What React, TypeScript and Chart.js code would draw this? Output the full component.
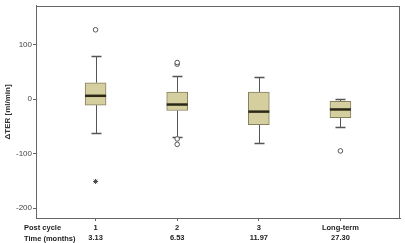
import React, { useEffect, useRef } from "react";
import { Chart, registerables } from "chart.js";

Chart.register(...registerables);

const categories = ["1", "2", "3", "Long-term"];
const times = ["3.13", "6.53", "11.97", "27.30"];
const whiskerLow = [-63, -69, -80, -52];
const q1 = [-11, -21, -47, -34];
const median = [6, -10, -23, -19];
const q3 = [30, 13, 13, -4];
const whiskerHigh = [79, 43, 41, 0];
const outlierX = [1, 2, 2, 2, 2, 4];
const outlierY = [127, 64, 67, -73, -83, -95];
const extremeX = [1];
const extremeY = [-151];
const yTicks = [-200, -100, 0, 100];

const FONT = "'Liberation Sans', Arial, sans-serif";

const boxPlugin = {
  id: "boxWhiskers",
  beforeDatasetsDraw(chart: any) {
    const { ctx, scales } = chart;
    const x = scales.x;
    const y = scales.y;
    ctx.save();
    ctx.strokeStyle = "#555";
    ctx.lineWidth = 1;
    categories.forEach((_, i) => {
      const px = Math.round(x.getPixelForValue(i + 1)) + 0.5;
      const yl = Math.round(y.getPixelForValue(whiskerLow[i])) + 0.5;
      const yh = Math.round(y.getPixelForValue(whiskerHigh[i])) + 0.5;
      const y1 = y.getPixelForValue(q1[i]);
      const y3 = y.getPixelForValue(q3[i]);
      ctx.beginPath();
      ctx.moveTo(px, yl);
      ctx.lineTo(px, y1);
      ctx.moveTo(px, y3);
      ctx.lineTo(px, yh);
      ctx.stroke();
      ctx.lineWidth = 1.5;
      ctx.beginPath();
      ctx.moveTo(px - 5, yl);
      ctx.lineTo(px + 5, yl);
      ctx.moveTo(px - 5, yh);
      ctx.lineTo(px + 5, yh);
      ctx.stroke();
      ctx.lineWidth = 1;
    });
    ctx.restore();
  },
  afterDatasetsDraw(chart: any) {
    const { ctx, scales, chartArea } = chart;
    const x = scales.x;
    const y = scales.y;
    ctx.save();
    ctx.strokeStyle = "#2b2818";
    ctx.lineWidth = 2.5;
    categories.forEach((_, i) => {
      const px = x.getPixelForValue(i + 1);
      const pm = y.getPixelForValue(median[i]);
      ctx.beginPath();
      ctx.moveTo(px - 10.5, pm);
      ctx.lineTo(px + 10.5, pm);
      ctx.stroke();
    });
    ctx.strokeStyle = "#666";
    ctx.lineWidth = 1;
    ctx.strokeRect(
      Math.round(chartArea.left) + 0.5,
      Math.round(chartArea.top) + 0.5,
      Math.round(chartArea.right - chartArea.left) - 1,
      Math.round(chartArea.bottom - chartArea.top)
    );
    ctx.restore();
  },
  afterDraw(chart: any) {
    const { ctx, chartArea } = chart;
    ctx.save();
    ctx.fillStyle = "#222";
    ctx.font = `bold 7.5px ${FONT}`;
    ctx.textBaseline = "middle";
    ctx.textAlign = "left";
    ctx.fillText("Post cycle", 24, chartArea.bottom + 10);
    ctx.fillText("Time (months)", 24, chartArea.bottom + 20.5);
    ctx.restore();
  },
};

export default function App() {
  const ref = useRef<HTMLCanvasElement>(null);
  useEffect(() => {
    document.body.style.margin = "0";
    const chart = new Chart(ref.current!, {
      type: "bar",
      data: {
        datasets: [
          {
            type: "bar",
            data: categories.map((_, i) => ({ x: i + 1, y: [q1[i], q3[i]] })) as any,
            backgroundColor: "#d5cf9f",
            borderColor: "#858060",
            borderWidth: 1,
            borderSkipped: false,
            barThickness: 21,
            grouped: false,
          } as any,
          {
            type: "scatter",
            data: outlierX.map((v, i) => ({ x: v, y: outlierY[i] })),
            pointStyle: "circle",
            radius: 2.3,
            borderColor: "#555",
            backgroundColor: "#fff",
            borderWidth: 1,
          } as any,
          {
            type: "scatter",
            data: extremeX.map((v, i) => ({ x: v, y: extremeY[i] })),
            pointStyle: "star",
            radius: 2.5,
            borderColor: "#444",
            borderWidth: 1,
          } as any,
        ],
      },
      options: {
        responsive: false,
        animation: false,
        layout: { padding: { top: 2, right: 2, left: 0, bottom: 0 } },
        plugins: { legend: { display: false }, tooltip: { enabled: false } },
        scales: {
          x: {
            type: "linear",
            min: 0.27,
            max: 4.73,
            offset: false,
            afterBuildTicks: (s: any) => {
              s.ticks = categories.map((_, i) => ({ value: i + 1 }));
            },
            afterFit: (s: any) => {
              s.height = 25;
            },
            grid: { offset: false, drawOnChartArea: false, drawTicks: true, tickLength: 3, color: "#666" },
            border: { display: true, color: "#666" },
            ticks: {
              autoSkip: false,
              maxRotation: 0,
              padding: 1.5,
              color: "#222",
              font: { family: FONT, size: 7.5, weight: "bold", lineHeight: 1.4 },
              callback: (v: any) => {
                const i = Math.round(v) - 1;
                return [categories[i], times[i]];
              },
            },
          },
          y: {
            type: "linear",
            min: -218,
            max: 171,
            afterBuildTicks: (s: any) => {
              s.ticks = yTicks.map((v) => ({ value: v }));
            },
            afterFit: (s: any) => {
              s.width = 36;
            },
            grid: { drawOnChartArea: false, drawTicks: true, tickLength: 3, color: "#666" },
            border: { display: true, color: "#666" },
            ticks: {
              padding: 1,
              color: "#444",
              font: { family: FONT, size: 8 },
            },
            title: {
              display: true,
              text: "ΔTER [ml/min]",
              color: "#333",
              font: { family: FONT, size: 8, weight: "bold" },
              padding: { top: 3, bottom: 0 },
            },
          },
        },
      },
      plugins: [boxPlugin],
    });
    return () => chart.destroy();
  }, []);
  return (
    <div style={{ width: 405, height: 243 }}>
      <canvas ref={ref} width={405} height={243} />
    </div>
  );
}
